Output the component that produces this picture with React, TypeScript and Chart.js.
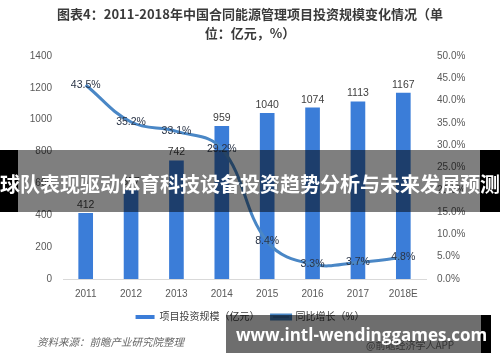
import React, { useEffect, useRef } from "react";
import { Chart, registerables } from "chart.js";

Chart.register(...registerables);

const categories = ["2011", "2012", "2013", "2014", "2015", "2016", "2017", "2018E"];
const investment = [412, 557, 742, 959, 1040, 1074, 1113, 1167];
const growth = [43.5, 35.2, 33.1, 29.2, 8.4, 3.3, 3.7, 4.8];
const titleLines = ["图表4：2011-2018年中国合同能源管理项目投资规模变化情况（单", "位：亿元，%）"];
const seriesNames = ["项目投资规模（亿元）", "同比增长（%）"];
const sourceText = "资料来源：前瞻产业研究院整理";
const appText = "@前瞻经济学人APP";
const bannerText = "球队表现驱动体育科技设备投资趋势分析与未来发展预测";
const siteText = "www.intl-wendinggames.com";

const FONT = "'Liberation Sans', 'Noto Sans CJK SC', sans-serif";

const labelPlugin = {
  id: "valueLabels",
  afterDatasetsDraw(chart: any) {
    const ctx = chart.ctx;
    ctx.save();
    const barMeta = chart.getDatasetMeta(0);
    ctx.font = `10.5px ${FONT}`;
    ctx.fillStyle = "#404040";
    ctx.textAlign = "center";
    ctx.textBaseline = "bottom";
    barMeta.data.forEach((el: any, i: number) => {
      ctx.fillText(String(investment[i]), el.x, el.y - 3);
    });
    const lineMeta = chart.getDatasetMeta(1);
    ctx.fillStyle = "#2a3446";
    ctx.textBaseline = "middle";
    lineMeta.data.forEach((el: any, i: number) => {
      ctx.fillText(growth[i].toFixed(1) + "%", el.x, el.y);
    });
    ctx.restore();
  },
};

export default function App() {
  const ref = useRef<HTMLCanvasElement>(null);
  useEffect(() => {
    if (!ref.current) return;
    const chart = new Chart(ref.current, {
      type: "bar",
      data: {
        labels: categories,
        datasets: [
          {
            type: "bar",
            label: seriesNames[0],
            data: investment,
            backgroundColor: "#3b7dd8",
            borderWidth: 0,
            barThickness: 14,
            yAxisID: "y",
            order: 2,
          },
          {
            type: "line",
            label: seriesNames[1],
            data: growth,
            borderColor: "#4a87c6",
            backgroundColor: "#2f5f96",
            borderWidth: 3,
            pointRadius: 0,
            tension: 0.4,
            fill: false,
            yAxisID: "y1",
            order: 1,
          },
        ],
      },
      options: {
        responsive: false,
        animation: false,
        devicePixelRatio: 1,
        layout: { padding: { top: 0, left: 0, right: 0, bottom: 30 } },
        font: { family: FONT },
        plugins: {
          title: {
            display: true,
            text: titleLines,
            color: "#3a3a3a",
            font: { family: "'Noto Sans CJK SC', sans-serif", size: 13, weight: "bold", lineHeight: 19 / 13 },
            padding: { top: 4.5, bottom: 13.5 },
          },
          legend: {
            position: "bottom",
            labels: {
              boxWidth: 19,
              boxHeight: 4,
              padding: 12,
              color: "#404040",
              font: { family: FONT, size: 10 },
              sort: (a: any, b: any) => a.datasetIndex - b.datasetIndex,
            },
          },
          tooltip: { enabled: false },
        },
        scales: {
          x: {
            grid: { display: false, drawTicks: false },
            border: { display: true, color: "#d9d9d9", width: 1 },
            ticks: { color: "#595959", padding: 9, font: { family: FONT, size: 10 } },
            afterFit: (s: any) => { s.height = 21; },
          },
          y: {
            position: "left",
            min: 0,
            max: 1400,
            grid: { display: false, drawTicks: false },
            border: { display: false },
            ticks: {
              stepSize: 200,
              color: "#595959",
              padding: 11,
              font: { family: FONT, size: 10 },
              callback: (v: any) => String(v),
            },
            afterFit: (s: any) => { s.width = 63; },
          },
          y1: {
            position: "right",
            min: 0,
            max: 50,
            grid: { display: false, drawTicks: false },
            border: { display: false },
            ticks: {
              stepSize: 5,
              color: "#595959",
              padding: 11,
              font: { family: FONT, size: 10 },
              callback: (v: any) => Number(v).toFixed(1) + "%",
            },
            afterFit: (s: any) => { s.width = 74; },
          },
        },
      },
      plugins: [labelPlugin],
    } as any);
    return () => chart.destroy();
  }, []);

  return (
    <div style={{ position: "absolute", left: 0, top: 0, width: 500, height: 362, background: "#fff", overflow: "hidden" }}>
      <canvas ref={ref} width={500} height={362} style={{ position: "absolute", left: 0, top: 0, width: 500, height: 362 }} />
      <div style={{ position: "absolute", left: 37, top: 334, fontFamily: "'Noto Sans CJK SC', sans-serif", fontStyle: "italic", fontSize: 10.5, color: "#666", lineHeight: "16px", whiteSpace: "nowrap" }}>{sourceText}</div>
      <div style={{ position: "absolute", left: 366, top: 337, fontFamily: "'Noto Sans CJK SC', sans-serif", fontSize: 10, color: "#777", lineHeight: "16px", whiteSpace: "nowrap" }}>{appText}</div>
      {/* banner overlay */}
      <div style={{ position: "absolute", left: 0, top: 150, width: 18, height: 62, background: "#000" }} />
      <div style={{ position: "absolute", left: 18, top: 150, width: 462, height: 62, background: "rgba(0,0,0,0.5)" }} />
      <div style={{ position: "absolute", left: 480, top: 150, width: 20, height: 62, background: "#000" }} />
      <div style={{ position: "absolute", left: -10, top: 150, width: 520, height: 62, display: "flex", alignItems: "center", justifyContent: "center", color: "#fff", fontFamily: "'Noto Sans CJK SC', sans-serif", fontWeight: "bold", fontSize: 20, whiteSpace: "nowrap", paddingTop: 4, boxSizing: "border-box" }}>{bannerText}</div>
      {/* site box */}
      <div style={{ position: "absolute", left: 226, top: 315, width: 255, height: 38, background: "rgba(0,0,0,0.57)" }} />
      <div style={{ position: "absolute", left: 481, top: 315, width: 10, height: 38, background: "#000" }} />
      <div style={{ position: "absolute", left: 226, top: 315, width: 255, height: 38, display: "flex", alignItems: "center", paddingLeft: 10, boxSizing: "border-box", color: "#fff", fontFamily: "'Open Sans', sans-serif", fontWeight: "bold", fontSize: 17, whiteSpace: "nowrap" }}>{siteText}</div>
    </div>
  );
}
